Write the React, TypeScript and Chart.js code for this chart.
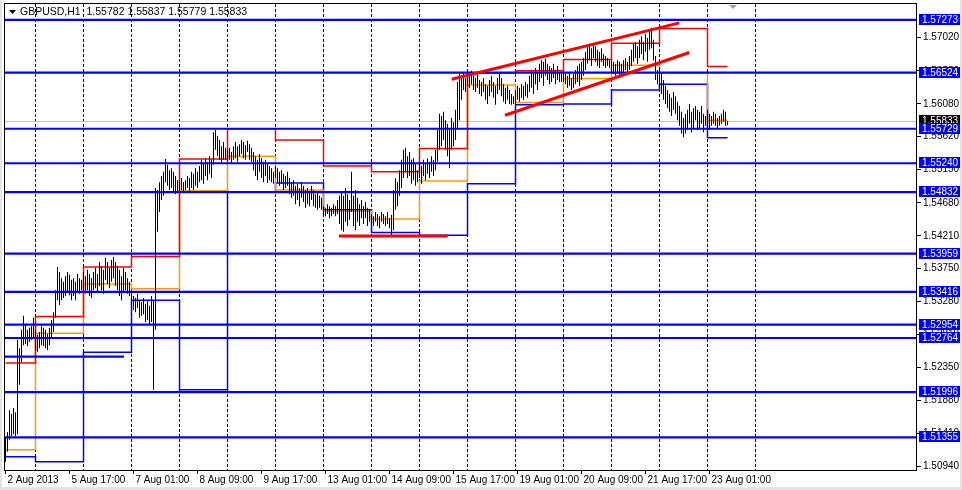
import { useEffect, useRef } from "react";
import { Chart, registerables } from "chart.js";

Chart.register(...registerables);

// ---------------- data ----------------
const symbolTitle = "GBPUSD,H1  1.55782 1.55837 1.55779 1.55833";
const bidPrice = 1.55833;

// H1 bar highs, one line per trading day (2 Aug 09:00 ... 23 Aug 10:00)
const barHigh: number[] = [
  1.5135, 1.5143, 1.5174, 1.5169, 1.5177, 1.5171, 1.5274, 1.5262, 1.5288, 1.5308, 1.5296, 1.5288, 1.5291, 1.5293, 1.5305,
  1.5288, 1.5281, 1.5285, 1.5293, 1.5291, 1.5288, 1.5282, 1.5291, 1.5302, 1.5313, 1.5344, 1.5377, 1.537, 1.5361, 1.5356, 1.5364, 1.537, 1.5366, 1.5359, 1.5361, 1.5356, 1.5367, 1.5361, 1.5359,
  1.537, 1.5364, 1.5373, 1.5367, 1.5361, 1.537, 1.5376, 1.5367, 1.5384, 1.5378, 1.5373, 1.539, 1.5384, 1.5376, 1.5387, 1.5391, 1.5384, 1.5378, 1.5373, 1.5364, 1.5376, 1.537, 1.5361, 1.5356,
  1.5342, 1.5336, 1.5333, 1.5339, 1.533, 1.5327, 1.5333, 1.5325, 1.533, 1.5322, 1.5336, 1.533, 1.5489, 1.5486, 1.5497, 1.5506, 1.5512, 1.553, 1.5522, 1.5514, 1.5517, 1.5512, 1.5506, 1.55,
  1.55, 1.5503, 1.5497, 1.55, 1.5506, 1.5503, 1.5512, 1.5509, 1.5517, 1.5512, 1.552, 1.5529, 1.5523, 1.5531, 1.5526, 1.5534, 1.5529, 1.5568, 1.5571, 1.5563, 1.5557, 1.5548, 1.5554, 1.5546,
  1.5543, 1.5546, 1.554, 1.5548, 1.5554, 1.5548, 1.5551, 1.5557, 1.5554, 1.555, 1.5556, 1.5551, 1.5546, 1.554, 1.5534, 1.5529, 1.5537, 1.5531, 1.5526, 1.5529, 1.5523, 1.552, 1.5517, 1.5512,
  1.552, 1.5517, 1.5512, 1.5514, 1.5509, 1.5506, 1.5512, 1.5503, 1.5497, 1.55, 1.5492, 1.5495, 1.5489, 1.5497, 1.5492, 1.5486, 1.5489, 1.5483, 1.5492, 1.5486, 1.548, 1.5483, 1.5478, 1.5475,
  1.5463, 1.5461, 1.5466, 1.5463, 1.5461, 1.5466, 1.5463, 1.5472, 1.5478, 1.5483, 1.5478, 1.5489, 1.548, 1.5472, 1.5512, 1.5478, 1.5486, 1.5475, 1.5466, 1.5472, 1.5463, 1.5469, 1.5461, 1.5458,
  1.5452, 1.5449, 1.5455, 1.5452, 1.5449, 1.5455, 1.5452, 1.5449, 1.5455, 1.5446, 1.5451, 1.5486, 1.5503, 1.5497, 1.5514, 1.5529, 1.5543, 1.5546, 1.5534, 1.554, 1.5529, 1.5531, 1.5523, 1.5514,
  1.5526, 1.552, 1.5529, 1.5523, 1.5531, 1.5526, 1.5534, 1.5529, 1.5543, 1.5571, 1.5594, 1.5591, 1.5597, 1.5585, 1.558, 1.5574, 1.5588, 1.5582, 1.56, 1.5639, 1.5651, 1.5648, 1.5652, 1.5645,
  1.5653, 1.5651, 1.5655, 1.5648, 1.5645, 1.5651, 1.5642, 1.5639, 1.5645, 1.5636, 1.5634, 1.5642, 1.5648, 1.5639, 1.5634, 1.5645, 1.5651, 1.5645, 1.5636, 1.5631, 1.5634, 1.5628, 1.5622, 1.5619,
  1.5628, 1.5634, 1.5631, 1.5636, 1.5634, 1.5639, 1.5636, 1.5648, 1.5656, 1.5651, 1.5659, 1.5653, 1.5665, 1.567, 1.5668, 1.5672, 1.5665, 1.5662, 1.5659, 1.5665, 1.5656, 1.5662, 1.5653, 1.5651,
  1.5653, 1.5651, 1.5648, 1.5653, 1.5645, 1.5651, 1.5656, 1.5662, 1.5665, 1.5668, 1.5673, 1.5682, 1.569, 1.5693, 1.5687, 1.5694, 1.569, 1.5685, 1.5682, 1.5687, 1.5679, 1.5676, 1.5673, 1.567,
  1.567, 1.5668, 1.5665, 1.567, 1.5668, 1.5665, 1.567, 1.5673, 1.5668, 1.5676, 1.5685, 1.5693, 1.5696, 1.569, 1.5699, 1.5704, 1.5696, 1.5707, 1.5702, 1.5713, 1.5716, 1.5699, 1.5676, 1.5656,
  1.566, 1.5653, 1.5642, 1.5634, 1.5628, 1.5622, 1.5617, 1.5625, 1.5619, 1.5611, 1.5605, 1.5597, 1.5588, 1.5594, 1.56, 1.5608, 1.5597, 1.5602, 1.5605, 1.56, 1.5597, 1.5605, 1.5594, 1.5591,
  1.56, 1.5594, 1.5591, 1.5597, 1.5594, 1.5588, 1.5591, 1.5594, 1.56, 1.5597, 1.55837,
];

const barLow: number[] = [
  1.5101, 1.5115, 1.5132, 1.5137, 1.514, 1.5137, 1.514, 1.521, 1.5242, 1.5266, 1.5268, 1.5265, 1.5271, 1.5274, 1.5276,
  1.5259, 1.5257, 1.5262, 1.5266, 1.5265, 1.5262, 1.5259, 1.5266, 1.5276, 1.5285, 1.5305, 1.533, 1.5323, 1.533, 1.5333, 1.5336, 1.5342, 1.5337, 1.533, 1.5336, 1.533, 1.5342, 1.5339, 1.5344,
  1.5342, 1.5339, 1.5344, 1.5336, 1.5333, 1.5344, 1.5347, 1.5342, 1.535, 1.5344, 1.5339, 1.5359, 1.5353, 1.5347, 1.5356, 1.5361, 1.535, 1.5344, 1.5336, 1.533, 1.5342, 1.5344, 1.5339, 1.5336,
  1.5322, 1.5316, 1.5313, 1.5319, 1.5305, 1.5308, 1.531, 1.5299, 1.5302, 1.5296, 1.5299, 1.5203, 1.5288, 1.5427, 1.5455, 1.5472, 1.5478, 1.5497, 1.5492, 1.5486, 1.5489, 1.5483, 1.548, 1.5483,
  1.5483, 1.5486, 1.5483, 1.5486, 1.5489, 1.5483, 1.5489, 1.5486, 1.5492, 1.5489, 1.5497, 1.55, 1.5495, 1.5506, 1.55, 1.5509, 1.5503, 1.5522, 1.5543, 1.5534, 1.5529, 1.5523, 1.5529, 1.5529,
  1.5526, 1.5529, 1.5523, 1.5529, 1.5531, 1.5526, 1.5534, 1.5537, 1.5531, 1.5529, 1.554, 1.5529, 1.5526, 1.5514, 1.5506, 1.55, 1.5512, 1.5503, 1.5497, 1.5506, 1.5496, 1.55, 1.5497, 1.5495,
  1.5503, 1.5497, 1.5492, 1.5495, 1.5486, 1.5489, 1.5492, 1.548, 1.5475, 1.5478, 1.5466, 1.5472, 1.5463, 1.5475, 1.5469, 1.5461, 1.5466, 1.5463, 1.5472, 1.5463, 1.5461, 1.5458, 1.5461, 1.5458,
  1.5452, 1.5449, 1.5452, 1.5446, 1.5449, 1.5452, 1.5449, 1.5452, 1.5438, 1.5429, 1.5427, 1.5441, 1.5435, 1.5444, 1.5455, 1.5435, 1.5429, 1.5441, 1.5435, 1.5446, 1.5438, 1.5446, 1.5435, 1.5441,
  1.5438, 1.5435, 1.5441, 1.5435, 1.5432, 1.5441, 1.5438, 1.5435, 1.5438, 1.5432, 1.5422, 1.5429, 1.5458, 1.5463, 1.5478, 1.5489, 1.5503, 1.5512, 1.5503, 1.5506, 1.5495, 1.55, 1.5492, 1.5497,
  1.5503, 1.5495, 1.5506, 1.55, 1.5509, 1.5503, 1.5512, 1.5506, 1.5514, 1.5526, 1.5543, 1.5548, 1.5557, 1.5543, 1.5534, 1.5517, 1.5543, 1.5548, 1.5557, 1.5574, 1.5585, 1.5614, 1.5628, 1.5625,
  1.5634, 1.5631, 1.5636, 1.5628, 1.5625, 1.5631, 1.5622, 1.5619, 1.5625, 1.5614, 1.5608, 1.5619, 1.5625, 1.5617, 1.5607, 1.5622, 1.5628, 1.5619, 1.5611, 1.5608, 1.5614, 1.5608, 1.5607, 1.5608,
  1.5608, 1.5614, 1.5611, 1.5617, 1.5614, 1.5619, 1.5617, 1.5625, 1.5631, 1.5622, 1.5636, 1.5628, 1.5639, 1.5645, 1.5634, 1.5648, 1.5642, 1.5636, 1.5639, 1.5645, 1.5636, 1.5642, 1.5639, 1.5639,
  1.5639, 1.5636, 1.5631, 1.5634, 1.5628, 1.5631, 1.5636, 1.5639, 1.5634, 1.5642, 1.5648, 1.5656, 1.5665, 1.567, 1.5662, 1.5673, 1.5668, 1.5662, 1.5659, 1.5668, 1.5662, 1.5659, 1.5662, 1.5659,
  1.5653, 1.5651, 1.5648, 1.5653, 1.5648, 1.5651, 1.5653, 1.5656, 1.5651, 1.5656, 1.5662, 1.5668, 1.5673, 1.5665, 1.5673, 1.5679, 1.567, 1.5682, 1.5668, 1.5685, 1.5687, 1.567, 1.5642, 1.5636,
  1.5631, 1.5622, 1.5614, 1.5608, 1.5602, 1.5597, 1.5591, 1.56, 1.5594, 1.5585, 1.5577, 1.5566, 1.5561, 1.5566, 1.5571, 1.558, 1.5568, 1.5574, 1.5585, 1.5571, 1.5574, 1.558, 1.5568, 1.5577,
  1.5574, 1.5571, 1.5577, 1.558, 1.5577, 1.5574, 1.5577, 1.558, 1.5583, 1.5577, 1.55779,
];

// first bar of each trading day, and the previous-day high / close / low levels shown that day
const dayStartBar = [0, 15, 39, 63, 87, 111, 135, 159, 183, 207, 231, 255, 279, 303, 327, 351];
const lastBar = 361;
const prevDayHigh = [1.5241, 1.5307, 1.5377, 1.5392, 1.553, 1.5573, 1.5557, 1.552, 1.5512, 1.5545, 1.5652, 1.5655, 1.5671, 1.5694, 1.5715, 1.5661];
const prevDayClose = [1.5118, 1.5283, 1.5353, 1.5346, 1.5485, 1.5534, 1.5486, 1.5456, 1.5445, 1.5499, 1.5635, 1.561, 1.5644, 1.5663, 1.5652, 1.5585];
const prevDayLow = [1.5108, 1.5101, 1.5256, 1.533, 1.5203, 1.5483, 1.5496, 1.5458, 1.5426, 1.5422, 1.5495, 1.5607, 1.5608, 1.5628, 1.5636, 1.556];

// horizontal support / resistance levels
const levelPrices = [1.57273, 1.56524, 1.55729, 1.5524, 1.54832, 1.53959, 1.53416, 1.52954, 1.52764, 1.51996, 1.51355];
const shortLevelPrice = 1.525;
const shortLevelEndBar = 59.25;

// red trend lines (bar index / price anchors)
const trendFromBar = [223.1, 249.75, 166.75];
const trendFromPrice = [1.5643, 1.5592, 1.5421];
const trendToBar = [336.9, 341.9, 221.1];
const trendToPrice = [1.5723, 1.5681, 1.5421];

// axes
const dayGridBars = [15, 39, 63, 87, 111, 135, 159, 183, 207, 231, 255, 279, 303, 327, 351, 375];
const xTickBars = [0, 32, 64, 96, 128, 160, 192, 224, 256, 288, 320, 352];
const xTickText = [
  "2 Aug 2013", "5 Aug 17:00", "7 Aug 01:00", "8 Aug 09:00", "9 Aug 17:00", "13 Aug 01:00",
  "14 Aug 09:00", "15 Aug 17:00", "19 Aug 01:00", "20 Aug 09:00", "21 Aug 17:00", "23 Aug 01:00",
];
const yTickPrices = [1.5094, 1.5141, 1.5188, 1.5235, 1.5281, 1.5328, 1.5375, 1.5421, 1.5468, 1.5515, 1.5562, 1.5608, 1.5655, 1.5702];
const xMin = -0.25;
const xMax = 455.75;
const yMin = 1.50893;
const yMax = 1.57497;

// ---------------- styling ----------------
const FONT = "'Liberation Sans', Arial, sans-serif";
const FONT_SIZE = 10;
const TITLE_SIZE = 10.5;
const BLUE = "#0000FF";
const RED = "#FF0000";
const ORANGE = "#FF9900";
const FRAME_GRAY = "#e4e4e4";

const decorPlugin = {
  id: "mt4decor",
  beforeDraw(chart: any) {
    const { ctx, width, height } = chart;
    ctx.save();
    ctx.fillStyle = "#ffffff";
    ctx.fillRect(0, 0, width, height);
    ctx.restore();
  },
  beforeDatasetsDraw(chart: any) {
    const { ctx, chartArea: a, scales } = chart;
    const xs = scales.x;
    ctx.save();
    ctx.beginPath();
    ctx.rect(a.left, a.top, a.right - a.left, a.bottom - a.top);
    ctx.clip();
    ctx.strokeStyle = "#000";
    ctx.lineWidth = 1;
    ctx.setLineDash([3, 2]);
    for (const g of dayGridBars) {
      const px = Math.floor(xs.getPixelForValue(g)) + 0.5;
      ctx.beginPath();
      ctx.moveTo(px, a.top);
      ctx.lineTo(px, a.bottom);
      ctx.stroke();
    }
    ctx.restore();
  },
  afterDraw(chart: any) {
    const { ctx, chartArea: a, scales, width, height } = chart;
    const ys = scales.y;
    ctx.save();
    // frame
    ctx.strokeStyle = "#000";
    ctx.lineWidth = 1;
    ctx.strokeRect(a.left - 0.5, a.top - 0.5, a.right - a.left, a.bottom - a.top + 1);
    // title
    ctx.fillStyle = "#000";
    ctx.beginPath();
    ctx.moveTo(9, 10);
    ctx.lineTo(16, 10);
    ctx.lineTo(12.5, 14);
    ctx.closePath();
    ctx.fill();
    ctx.font = `${TITLE_SIZE}px ${FONT}`;
    ctx.textBaseline = "middle";
    ctx.textAlign = "left";
    ctx.fillText(symbolTitle, 20, 12.5);
    // shift marker
    ctx.fillStyle = "#a0a0a0";
    ctx.beginPath();
    ctx.moveTo(729, 5);
    ctx.lineTo(737, 5);
    ctx.lineTo(733, 9);
    ctx.closePath();
    ctx.fill();
    // bid label
    ctx.font = `${FONT_SIZE}px ${FONT}`;
    const boxX = a.right + 2;
    const boxW = 41;
    const by = Math.round(ys.getPixelForValue(bidPrice));
    ctx.fillStyle = "#000";
    ctx.fillRect(boxX, by - 6, boxW, 11);
    ctx.fillStyle = "#fff";
    ctx.fillText(bidPrice.toFixed(5), boxX + 3, by);
    // level labels
    for (const v of levelPrices) {
      const ly = Math.round(ys.getPixelForValue(v));
      ctx.fillStyle = BLUE;
      ctx.fillRect(boxX, ly - 6, boxW, 11);
      ctx.fillStyle = "#fff";
      ctx.fillText(v.toFixed(5), boxX + 3, ly);
    }
    // window frame strips
    ctx.fillStyle = FRAME_GRAY;
    ctx.fillRect(0, 0, 2, height);
    ctx.fillRect(width - 2, 0, 2, height);
    ctx.fillRect(0, height - 3, width, 3);
    ctx.restore();
  },
};

function stepData(vals: number[]) {
  const pts = dayStartBar.map((b, k) => ({ x: b, y: vals[k] }));
  pts.push({ x: lastBar, y: vals[vals.length - 1] });
  return pts;
}

export default function App() {
  const ref = useRef<HTMLCanvasElement | null>(null);

  useEffect(() => {
    document.body.style.margin = "0";
    const canvas = ref.current;
    if (!canvas) return;

    const datasets: any[] = [];

    // trend lines (top)
    trendFromBar.forEach((fb, k) => {
      datasets.push({
        type: "line",
        data: [
          { x: fb, y: trendFromPrice[k] },
          { x: trendToBar[k], y: trendToPrice[k] },
        ],
        borderColor: RED,
        borderWidth: 3,
        pointRadius: 0,
        order: 1,
      });
    });

    // horizontal levels
    levelPrices.forEach((v) => {
      datasets.push({
        type: "line",
        data: [
          { x: xMin, y: v },
          { x: xMax, y: v },
        ],
        borderColor: BLUE,
        borderWidth: 2.2,
        pointRadius: 0,
        order: 2,
      });
    });
    datasets.push({
      type: "line",
      data: [
        { x: xMin, y: shortLevelPrice },
        { x: shortLevelEndBar, y: shortLevelPrice },
      ],
      borderColor: BLUE,
      borderWidth: 2.2,
      pointRadius: 0,
      order: 2,
    });

    // bars
    datasets.push({
      type: "bar",
      data: barHigh.map((h, i) => ({ x: i, y: [barLow[i], h] })),
      backgroundColor: "#000",
      borderWidth: 0,
      barThickness: 1,
      inflateAmount: 0,
      grouped: false,
      order: 3,
    });

    // previous day high / close / low
    const steps: [number[], string][] = [
      [prevDayHigh, RED],
      [prevDayClose, ORANGE],
      [prevDayLow, BLUE],
    ];
    steps.forEach(([vals, col]) => {
      datasets.push({
        type: "line",
        data: stepData(vals),
        borderColor: col,
        borderWidth: 1.5,
        pointRadius: 0,
        stepped: "before",
        order: 4,
      });
    });

    // bid line
    datasets.push({
      type: "line",
      data: [
        { x: xMin, y: bidPrice },
        { x: xMax, y: bidPrice },
      ],
      borderColor: "#c0c0c0",
      borderWidth: 1,
      pointRadius: 0,
      order: 5,
    });

    const chart = new Chart(canvas, {
      type: "bar",
      data: { datasets },
      options: {
        animation: false,
        responsive: false,
        maintainAspectRatio: false,
        events: [],
        layout: { padding: { left: 5, top: 4, right: 0, bottom: 0 } },
        plugins: { legend: { display: false }, tooltip: { enabled: false } },
        scales: {
          x: {
            type: "linear",
            min: xMin,
            max: xMax,
            offset: false,
            afterBuildTicks: (s: any) => {
              s.ticks = xTickBars.map((v) => ({ value: v }));
            },
            afterFit: (s: any) => {
              s.height = 20;
              s.paddingLeft = 0;
              s.paddingRight = 0;
            },
            grid: { drawOnChartArea: false, drawTicks: true, tickLength: 4, color: "#000", offset: false },
            border: { display: false },
            ticks: {
              autoSkip: false,
              maxRotation: 0,
              minRotation: 0,
              align: "start",
              padding: 0,
              labelOffset: 2,
              color: "#000",
              font: { family: FONT, size: FONT_SIZE },
              callback: (_v: any, i: number) => xTickText[i] ?? "",
            },
          },
          y: {
            type: "linear",
            position: "right",
            min: yMin,
            max: yMax,
            afterBuildTicks: (s: any) => {
              s.ticks = yTickPrices.map((v) => ({ value: v }));
            },
            afterFit: (s: any) => {
              s.width = 45;
              s.paddingTop = 0;
              s.paddingBottom = 0;
            },
            grid: { drawOnChartArea: false, drawTicks: true, tickLength: 4, color: "#000" },
            border: { display: false },
            ticks: {
              autoSkip: false,
              padding: 2,
              color: "#000",
              font: { family: FONT, size: FONT_SIZE },
              callback: (v: any) => Number(v).toFixed(5),
            },
          },
        },
      } as any,
      plugins: [decorPlugin],
    });

    return () => chart.destroy();
  }, []);

  return (
    <div style={{ position: "fixed", left: 0, top: 0, width: 962, height: 490, background: "#fff" }}>
      <canvas ref={ref} width={962} height={490} style={{ width: 962, height: 490, display: "block" }} />
    </div>
  );
}
